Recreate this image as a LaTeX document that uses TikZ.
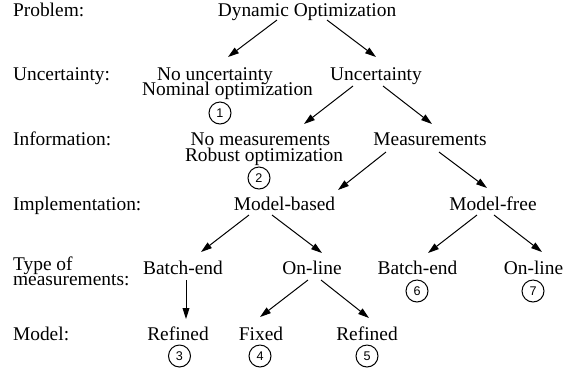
\documentclass[tikz,border=0pt]{standalone}
\usepackage{fontspec}
\setmainfont{Liberation Serif}
\newfontfamily\numfont{Liberation Sans}
\usetikzlibrary{calc,arrows.meta}
\tikzset{
  txt/.style={anchor=base,inner sep=0pt,font=\fontsize{9.7}{11}\selectfont},
  lbl/.style={anchor=base west,inner sep=0pt,font=\fontsize{9.7}{11}\selectfont},
  num/.style={circle,draw,line width=0.5pt,minimum size=11pt,inner sep=0pt,font=\numfont\fontsize{6.3}{7}\selectfont},
  arr/.style={line width=0.5pt,-{Triangle[length=5.5pt,width=3.4pt]}}
}
\begin{document}
\begin{tikzpicture}[x=0.5pt,y=-0.5pt]
\useasboundingbox[fill=white] (0,0) rectangle (578,371);
% row labels
\node[lbl] (lprob) at (12.7,16) {Problem:};
\node[lbl] (lunc) at (12.7,80) {Uncertainty:};
\node[lbl] (linf) at (12.7,145) {Information:};
\node[lbl] (limp) at (12.7,210) {Implementation:};
\node[lbl] (ltype) at (12.7,270) {Type of};
\node[lbl] (lmeas) at (12.7,285) {measurements:};
\node[lbl] (lmodel) at (12.7,340) {Model:};
% tree
\node[txt] (dyn) at (307,16) {Dynamic Optimization};
\node[txt] (nounc) at (215,80) {No uncertainty};
\node[txt] (nomopt) at (227.5,95) {Nominal optimization};
\node[num] (c1) at (220,113) {1};
\node[txt] (unc) at (376,80) {Uncertainty};
\node[txt] (nomeas) at (260.5,145) {No measurements};
\node[txt] (robust) at (264,161) {Robust optimization};
\node[num] (c2) at (259,178) {2};
\node[txt] (meas) at (430,145) {Measurements};
\node[txt] (mbased) at (284.5,210) {Model-based};
\node[txt] (mfree) at (493,210) {Model-free};
\node[txt] (be1) at (183,274) {Batch-end};
\node[txt] (ol1) at (312,274) {On-line};
\node[txt] (ref3) at (178,340) {Refined};
\node[num] (c3) at (179.5,356) {3};
\node[txt] (fixed) at (261,340) {Fixed};
\node[num] (c4) at (260,356) {4};
\node[txt] (ref5) at (367,340) {Refined};
\node[num] (c5) at (367,356) {5};
\node[txt] (be2) at (417.5,274) {Batch-end};
\node[num] (c6) at (417,291) {6};
\node[txt] (ol2) at (533.5,274) {On-line};
\node[num] (c7) at (533,291) {7};
% connectors
\draw[arr] ($(dyn.base)+(-30,4)$) -- ($(nounc.base)+(13,-23)$);
\draw[arr] ($(dyn.base)+(20,4)$) -- ($(unc.base)+(0,-23)$);
\draw[arr] ($(unc.base)+(-23,6)$) -- ($(nomeas.base)+(43.5,-21)$);
\draw[arr] ($(unc.base)+(7,6)$) -- ($(meas.base)+(2,-21)$);
\draw[arr] ($(meas.base)+(-44,7)$) -- ($(mbased.base)+(53.5,-20)$);
\draw[arr] ($(meas.base)+(9,7)$) -- ($(mfree.base)+(-6,-22)$);
\draw[arr] ($(mbased.base)+(-35.5,5)$) -- ($(be1.base)+(18,-22)$);
\draw[arr] ($(mbased.base)+(-12.5,5)$) -- ($(ol1.base)+(10,-21)$);
\draw[arr] ($(be1.base)+(3,6)$) -- ($(ref3.base)+(8,-21)$);
\draw[arr] ($(ol1.base)+(-4,6)$) -- ($(fixed.base)+(-1,-23)$);
\draw[arr] ($(ol1.base)+(9,6)$) -- ($(ref5.base)+(2,-22)$);
\draw[arr] ($(mfree.base)+(-16,5)$) -- ($(be2.base)+(10.5,-21)$);
\draw[arr] ($(mfree.base)+(1,5)$) -- ($(ol2.base)+(8.5,-22)$);
\end{tikzpicture}
\end{document}
